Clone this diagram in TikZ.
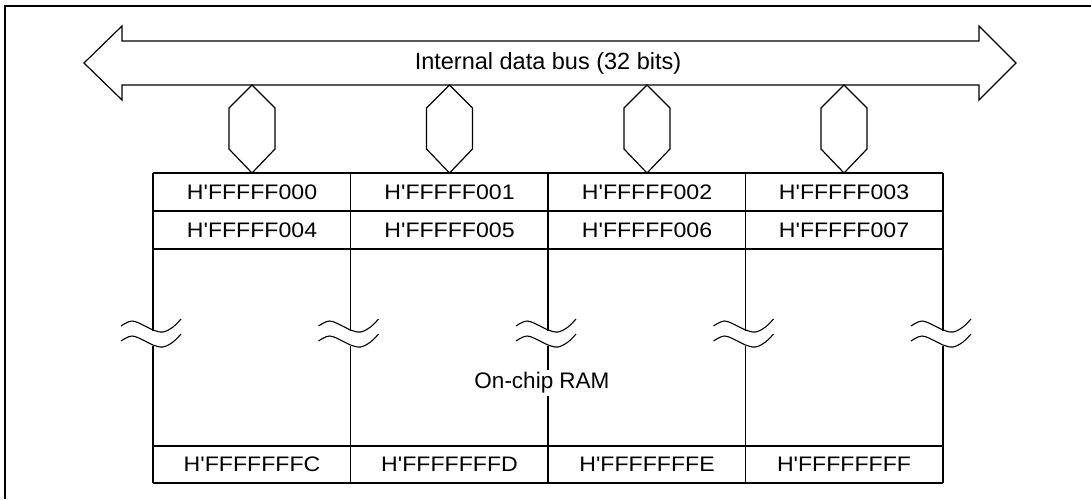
\documentclass[tikz,border=0pt]{standalone}
\usepackage{fontspec}
\setmainfont{Liberation Sans}
\newfontfamily\addrfont[FakeStretch=1.1]{Liberation Sans}
\begin{document}
\begin{tikzpicture}[x=1pt,y=-1pt,
  line/.style={line width=1.2pt, line join=miter},
  addr/.style={font=\addrfont\fontsize{21}{24}\selectfont, inner sep=0pt, anchor=center},
  lbl/.style={font=\fontsize{22.5}{26}\selectfont, inner sep=1pt, anchor=center},
  hexa/.style={line, fill=white},
  wave/.style={line width=1.1pt}]
\useasboundingbox (0,0) rectangle (1091,499);
% frame
\draw[line] (5,499) -- (5,6) -- (1091,6);
% bus arrow
\draw[line] (84,63) -- (122,26) -- (122,41) -- (979,41) -- (979,26) -- (1016,63)
  -- (979,100) -- (979,85) -- (122,85) -- (122,100) -- cycle;
\node[lbl, font=\fontsize{23.5}{27}\selectfont] (bus) at (548,63) {Internal data bus (32 bits)};
% hexagons
\foreach \c/\n in {252/h0,449.5/h1,647/h2,844/h3}{
  \draw[hexa] (\c,85) -- (\c+23,108) -- (\c+23,149) -- (\c,173) -- (\c-23,149) -- (\c-23,108) -- cycle;
  \coordinate (\n) at (\c,129);
}
% table horizontal lines
\draw[line] (153,173) -- (943,173);
\draw[line] (153,211) -- (943,211);
\draw[line] (153,249) -- (943,249);
\draw[line] (153,446) -- (943,446);
\draw[line] (153,483) -- (943,483);
% vertical lines with break marks
\foreach \x in {153,350.5,548,745.5,943}{
  \draw[line] (\x,173) -- (\x,249);
  \draw[line] (\x,249) -- (\x,331);
  \draw[line] (\x,346) -- (\x,483);
  \begin{scope}[shift={(\x,327)}]
    \draw[wave] plot[smooth, tension=0.6] coordinates {(-32,-1) (-21,-6) (-8,-1) (0,3) (10,5) (20,0) (28,-8)};
  \end{scope}
  \begin{scope}[shift={(\x,342)}]
    \draw[wave] plot[smooth, tension=0.6] coordinates {(-32,-1) (-21,-6) (-8,-1) (0,3) (10,5) (20,0) (28,-8)};
  \end{scope}
}
% address labels
\node[addr] (a0) at (252,192) {H'FFFFF000};
\node[addr] (a1) at (449.5,192) {H'FFFFF001};
\node[addr] (a2) at (647,192) {H'FFFFF002};
\node[addr] (a3) at (844,192) {H'FFFFF003};
\node[addr] (a4) at (252,230) {H'FFFFF004};
\node[addr] (a5) at (449.5,230) {H'FFFFF005};
\node[addr] (a6) at (647,230) {H'FFFFF006};
\node[addr] (a7) at (844,230) {H'FFFFF007};
\node[addr] (ac) at (252,464.5) {H'FFFFFFFC};
\node[addr] (ad) at (449.5,464.5) {H'FFFFFFFD};
\node[addr] (ae) at (647,464.5) {H'FFFFFFFE};
\node[addr] (af) at (844,464.5) {H'FFFFFFFF};
\node[lbl, fill=white, inner sep=3pt] (ram) at (542,383) {On-chip RAM};
\end{tikzpicture}
\end{document}
